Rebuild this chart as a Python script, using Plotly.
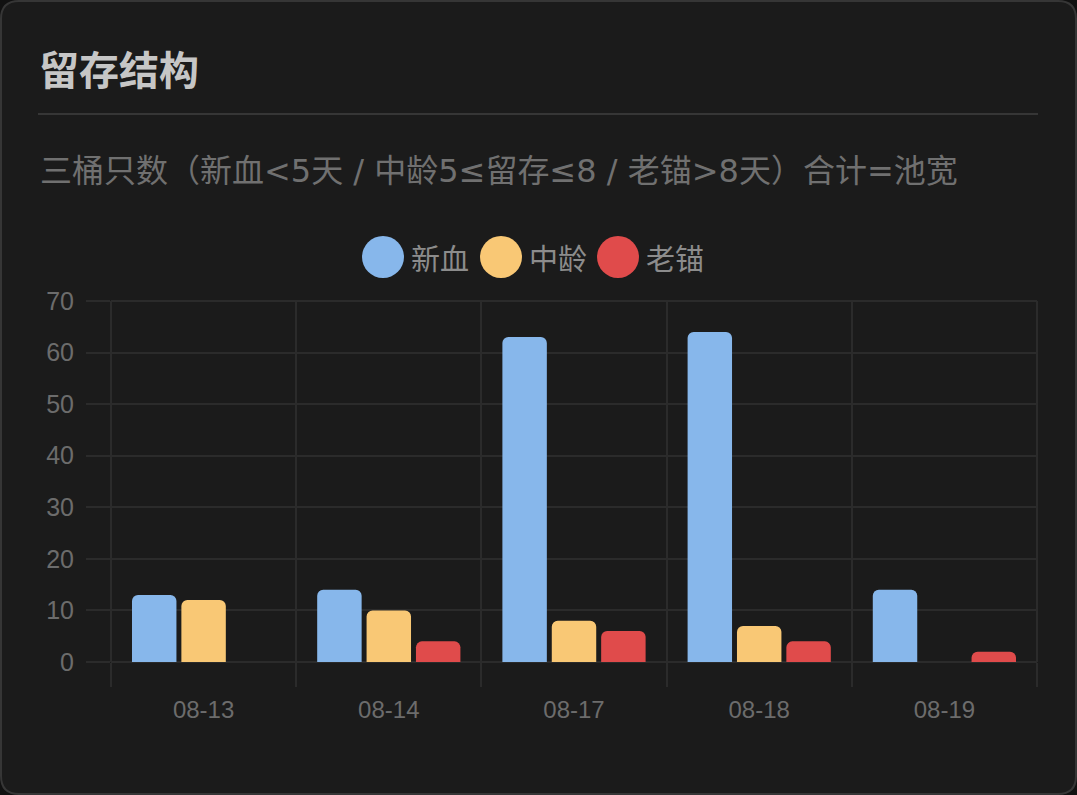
import plotly.graph_objects as go

# data
dates = ["08-13", "08-14", "08-17", "08-18", "08-19"]
new_blood = [13, 14, 63, 64, 14]
mid_age = [12, 10, 8, 7, 0]
old_anchor = [0, 4, 6, 4, 2]
series_names = ["新血", "中龄", "老锚"]
series_colors = ["#87b7eb", "#f9c875", "#e04b4b"]
y_ticks = [0, 10, 20, 30, 40, 50, 60, 70]

W, H = 1077, 795
M_L, M_R, M_T, M_B = 111, 40, 301, 133
PW, PH = W - M_L - M_R, H - M_T - M_B


def px(x):
    return (x - M_L) / PW


def py(y):
    return (H - M_B - y) / PH


fig = go.Figure()
for name, vals, col in zip(series_names, [new_blood, mid_age, old_anchor], series_colors):
    fig.add_trace(go.Bar(
        x=dates, y=vals, name=name,
        marker=dict(color=col, line=dict(width=0), cornerradius=6),
        showlegend=False,
    ))

# card background with rounded corners
r = 18
x0, y0, x1, y1 = 1, 1, W - 1, H - 1
pts = [
    ("M", x0 + r, y0), ("L", x1 - r, y0), ("Q", x1, y0, x1, y0 + r),
    ("L", x1, y1 - r), ("Q", x1, y1, x1 - r, y1), ("L", x0 + r, y1),
    ("Q", x0, y1, x0, y1 - r), ("L", x0, y0 + r), ("Q", x0, y0, x0 + r, y0),
]
path = ""
for p in pts:
    cmd, coords = p[0], p[1:]
    xy = []
    for i in range(0, len(coords), 2):
        xy.append(f"{px(coords[i]):.5f},{py(coords[i + 1]):.5f}")
    path += cmd + " ".join(xy) + " "
path += "Z"

grid = "#2b2b2b"
shapes = [
    dict(type="path", path=path, xref="paper", yref="paper", layer="below",
         fillcolor="#1b1b1b", line=dict(color="#363636", width=2)),
    dict(type="line", xref="paper", yref="paper", x0=px(38), x1=px(1038),
         y0=py(114), y1=py(114), line=dict(color="#363636", width=2)),
    # grid lines on the plot edges that plotly leaves out
    dict(type="line", xref="paper", yref="paper", x0=0, x1=0, y0=0, y1=1,
         layer="below", line=dict(color=grid, width=2)),
    dict(type="line", xref="paper", yref="paper", x0=1, x1=1, y0=0, y1=1,
         layer="below", line=dict(color=grid, width=2)),
    dict(type="line", xref="paper", yref="paper", x0=0, x1=1, y0=1, y1=1,
         layer="below", line=dict(color=grid, width=2)),
]

annotations = [
    dict(text="<b>留存结构</b>", x=px(37), y=py(68), xref="paper", yref="paper",
         xanchor="left", yanchor="middle", showarrow=False,
         font=dict(size=40, color="#c6c6c6", family="Noto Sans CJK SC")),
    dict(text="三桶只数（新血<5天 / 中龄5≤留存≤8 / 老锚>8天）合计=池宽",
         x=px(38), y=py(171), xref="paper", yref="paper",
         xanchor="left", yanchor="middle", showarrow=False,
         font=dict(size=32, color="#707070", family="DejaVu Sans, Noto Sans CJK SC")),
]

# legend drawn by hand: big circles + labels
legend_cx = [383, 501, 618]
for name, col, cx in zip(series_names, series_colors, legend_cx):
    shapes.append(dict(type="circle", xref="paper", yref="paper",
                       xsizemode="pixel", ysizemode="pixel",
                       xanchor=px(cx), yanchor=py(257),
                       x0=-21, x1=21, y0=-21, y1=21,
                       fillcolor=col, line=dict(width=0)))
    annotations.append(dict(text=name, x=px(cx + 26), y=py(257), xref="paper", yref="paper",
                            xanchor="left", yanchor="middle", showarrow=False,
                            font=dict(size=29, color="#8c8c8c", family="Noto Sans CJK SC")))

fig.update_layout(
    width=W, height=H,
    margin=dict(l=M_L, r=M_R, t=M_T, b=M_B),
    paper_bgcolor="#111111",
    plot_bgcolor="rgba(0,0,0,0)",
    barmode="group", bargap=0.2, bargroupgap=0.1,
    shapes=shapes, annotations=annotations,
    xaxis=dict(
        type="category", tickson="boundaries", showgrid=True, gridcolor=grid, gridwidth=2,
        ticks="outside", ticklen=24, tickwidth=2, tickcolor=grid,
        showline=False, ticklabelstandoff=31,
        tickfont=dict(size=24, color="#6c6c6c", family="Liberation Sans"),
    ),
    yaxis=dict(
        range=[0, 70], tickvals=y_ticks, showgrid=True, gridcolor=grid, gridwidth=2,
        zeroline=True, zerolinecolor=grid, zerolinewidth=2,
        ticks="outside", ticklen=24, tickwidth=2, tickcolor=grid,
        showline=False, ticklabelstandoff=7,
        tickfont=dict(size=25, color="#6c6c6c", family="Liberation Sans"),
    ),
)

fig.write_html("out.html", config={"displayModeBar": False},
               post_script="document.body.style.margin='0';")
